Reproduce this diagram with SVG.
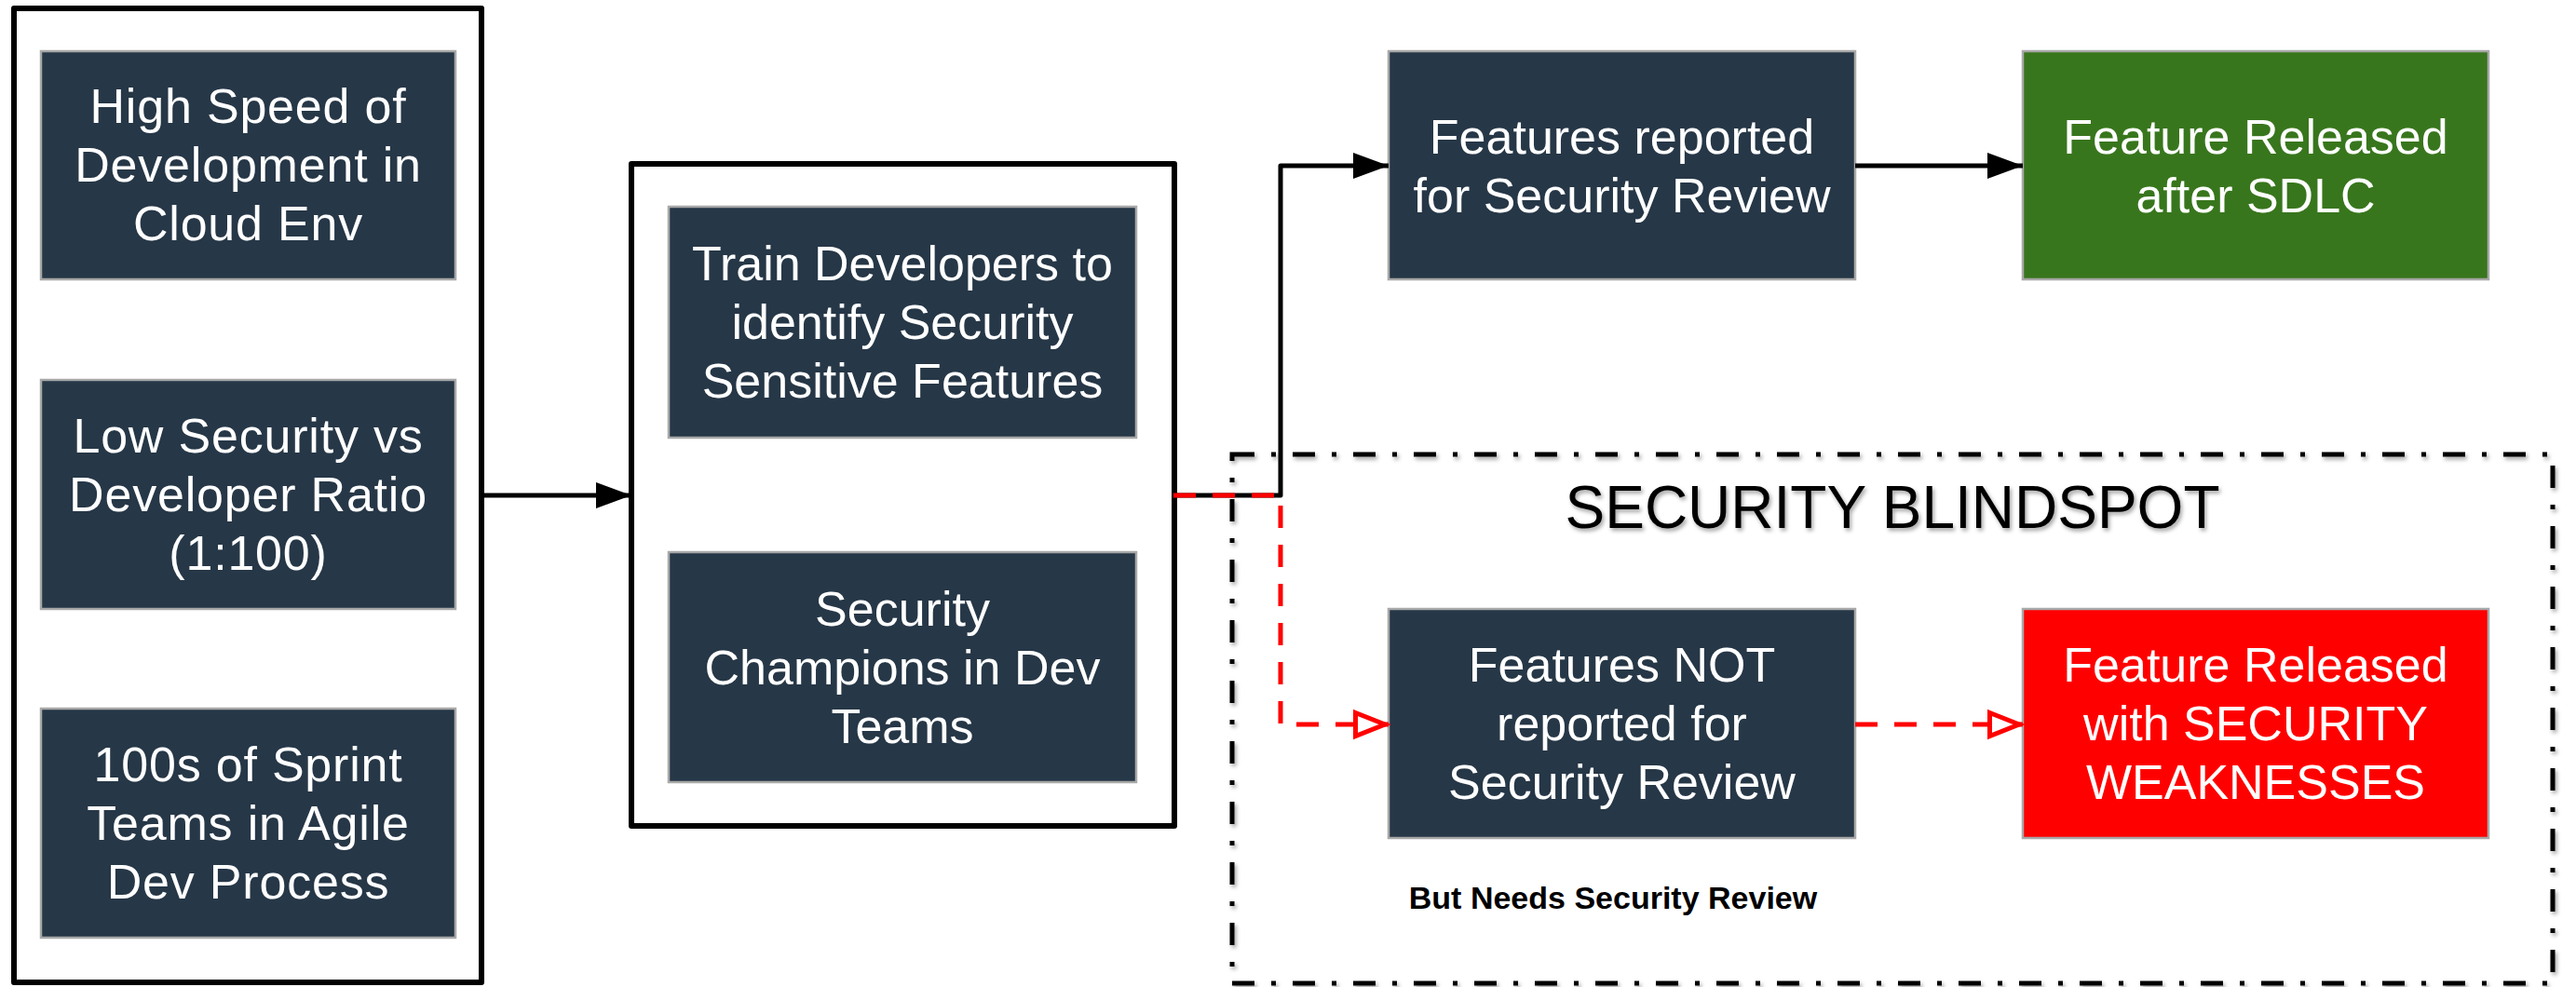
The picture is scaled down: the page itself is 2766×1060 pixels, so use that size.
<svg xmlns="http://www.w3.org/2000/svg" width="2766" height="1060" viewBox="0 0 2766 1060">
<style>
.frame{fill:none;stroke:#000;stroke-width:6;stroke-linejoin:round}
.node{stroke:#a8a8a8;stroke-width:2.5}
.dark{fill:#263747}
.green{fill:#38761d}
.red{fill:#ff0000}
.t{font-family:"Liberation Sans",Arial,sans-serif;font-size:52px;fill:#fff;text-anchor:middle}
.wide{letter-spacing:0.8px}
.conn{fill:none;stroke:#000;stroke-width:5}
.rconn{fill:none;stroke:#ff0000;stroke-width:5;stroke-dasharray:24 18}
.blind{fill:none;stroke:#000;stroke-width:5;stroke-dasharray:24 18 5 18}
</style>
<defs>
<marker id="arrow" markerUnits="userSpaceOnUse" viewBox="0 0 38 28" markerWidth="38" markerHeight="28" refX="38" refY="14" orient="auto" overflow="visible">
<path d="M0,0 L38,14 L0,28 Z" fill="#000"/>
</marker>
<marker id="open" markerUnits="userSpaceOnUse" viewBox="0 0 38 30" markerWidth="38" markerHeight="30" refX="38" refY="15" orient="auto" overflow="visible">
<path d="M2.5,2.5 L34,15 L2.5,27.5 Z" fill="#fff" stroke="#ff0000" stroke-width="5" stroke-linejoin="miter"/>
</marker>
<filter id="shadow" x="-5%" y="-5%" width="110%" height="110%">
<feDropShadow dx="2" dy="3" stdDeviation="2" flood-color="#000" flood-opacity="0.35"/>
</filter>
</defs>
<rect width="2766" height="1060" fill="#fff"/>

<g id="left-frame">
<rect class="frame" x="15" y="9" width="502" height="1046"/>
</g>
<g id="n-high-speed">
<rect class="node dark" x="44" y="55" width="445" height="245"/>
<text class="t wide" x="266.5" y="132">High Speed of</text>
<text class="t wide" x="266.5" y="195">Development in</text>
<text class="t wide" x="266.5" y="258">Cloud Env</text>
</g>
<g id="n-low-security">
<rect class="node dark" x="44" y="408" width="445" height="246"/>
<text class="t wide" x="266.5" y="486">Low Security vs</text>
<text class="t wide" x="266.5" y="549">Developer Ratio</text>
<text class="t wide" x="266.5" y="612">(1:100)</text>
</g>
<g id="n-sprint-teams">
<rect class="node dark" x="44" y="761" width="445" height="246"/>
<text class="t wide" x="266.5" y="839">100s of Sprint</text>
<text class="t wide" x="266.5" y="902">Teams in Agile</text>
<text class="t wide" x="266.5" y="965">Dev Process</text>
</g>

<g id="middle-frame">
<rect class="frame" x="678" y="176" width="583" height="711"/>
</g>
<g id="n-train">
<rect class="node dark" x="718" y="222" width="502" height="248"/>
<text class="t" x="969" y="301">Train Developers to</text>
<text class="t" x="969" y="364">identify Security</text>
<text class="t" x="969" y="427">Sensitive Features</text>
</g>
<g id="n-champions">
<rect class="node dark" x="718" y="593" width="502" height="247"/>
<text class="t" x="969" y="672">Security</text>
<text class="t" x="969" y="735">Champions in Dev</text>
<text class="t" x="969" y="798">Teams</text>
</g>

<g id="blindspot">
<rect class="blind" x="1323" y="488" width="1418" height="568" filter="url(#shadow)"/>
<text x="2032" y="567" font-family="'Liberation Sans',Arial,sans-serif" font-size="64" fill="#000" text-anchor="middle" filter="url(#shadow)">SECURITY BLINDSPOT</text>
<text x="1732" y="976" font-family="'Liberation Sans',Arial,sans-serif" font-size="34" font-weight="bold" fill="#000" text-anchor="middle">But Needs Security Review</text>
</g>

<g id="n-reported">
<rect class="node dark" x="1491" y="55" width="501" height="245"/>
<text class="t" x="1741.5" y="165">Features reported</text>
<text class="t" x="1741.5" y="228">for Security Review</text>
</g>
<g id="n-released-sdlc">
<rect class="node green" x="2172" y="55" width="500" height="245"/>
<text class="t" x="2422" y="165">Feature Released</text>
<text class="t" x="2422" y="228">after SDLC</text>
</g>
<g id="n-not-reported">
<rect class="node dark" x="1491" y="654" width="501" height="246"/>
<text class="t" x="1741.5" y="732">Features NOT</text>
<text class="t" x="1741.5" y="795">reported for</text>
<text class="t" x="1741.5" y="858">Security Review</text>
</g>
<g id="n-released-weak">
<rect class="node red" x="2172" y="654" width="500" height="246"/>
<text class="t" x="2422" y="732">Feature Released</text>
<text class="t" x="2422" y="795">with SECURITY</text>
<text class="t" x="2422" y="858">WEAKNESSES</text>
</g>

<g id="connectors">
<path class="conn" d="M518,532 H678" marker-end="url(#arrow)"/>
<path class="conn" d="M1261,532 H1375 V178 H1491" stroke-linejoin="round" marker-end="url(#arrow)"/>
<path class="conn" d="M1992,178 H2172" marker-end="url(#arrow)"/>
<path class="rconn" d="M1260,532 H1375 V778 H1491" marker-end="url(#open)"/>
<path class="rconn" d="M1992,778 H2172" marker-end="url(#open)"/>
</g>
</svg>
